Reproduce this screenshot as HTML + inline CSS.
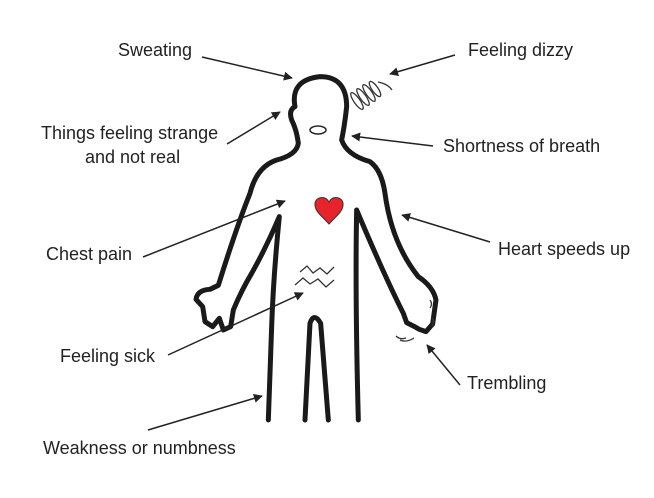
<!DOCTYPE html>
<html><head><meta charset="utf-8"><style>
html,body{margin:0;padding:0;background:#fff;}
svg{display:block;}
text{font-family:"Liberation Sans",Arial,sans-serif;font-size:18px;fill:#222;}
</style></head><body>
<svg width="654" height="498" viewBox="0 0 654 498" xmlns="http://www.w3.org/2000/svg">
<defs>
<marker id="a" viewBox="0 0 10 10" refX="9" refY="5" markerWidth="9" markerHeight="9" markerUnits="userSpaceOnUse" orient="auto">
<path d="M0,0 L10,5 L0,10 Z" fill="#222"/></marker>
</defs>
<g transform="translate(190,60) scale(0.3333)" fill="none" stroke="#1a1a1a" stroke-width="15" stroke-linejoin="round" stroke-linecap="round">
<path d="M235,1080 L245,800 Q250,650 268,470 Q230,560 185,640 Q155,690 130,750 L122,800 L100,810 L88,775 L68,800 L45,785 L38,740 L18,718 Q22,690 60,688 L85,676 Q140,500 180,400 Q200,320 260,300 Q320,285 325,250 Q320,210 305,180 Q295,150 315,140 Q300,60 390,50 Q470,50 470,140 Q465,190 455,240 Q470,285 540,305 Q575,330 585,400 Q605,550 685,650 Q730,680 738,720 L728,792 L708,815 L688,808 L670,798 L650,788 L640,760 Q580,640 500,450 Q495,700 505,1080"/>
<path d="M345,1080 L360,790 Q372,755 392,790 L415,1080"/>
</g>
<g fill="none" stroke="#333" stroke-width="1.3">
<path d="M300,272 L307,266 L313,273 L320,268 L327,274 L334,267"/>
<path d="M295,285 L303,278 L310,284 L318,279 L326,287 L334,280"/>
<ellipse cx="357" cy="101" rx="3" ry="10" transform="rotate(-35 357 101)"/>
<ellipse cx="363" cy="97" rx="3" ry="10" transform="rotate(-35 363 97)"/>
<ellipse cx="369" cy="93" rx="3" ry="10" transform="rotate(-35 369 93)"/>
<ellipse cx="375" cy="89" rx="3" ry="9" transform="rotate(-35 375 89)"/>
<path d="M378,82 q10,2 14,8"/>
<path d="M396,336 q4,4 10,2 M400,340 q6,3 14,-2 M430,300 q3,4 0,8 M432,318 q3,3 0,8"/>
</g>
<ellipse cx="318" cy="130" rx="8" ry="4" fill="none" stroke="#222" stroke-width="1.5"/>
<path d="M329,224 C322,216 314,211 315,203 C316,197 325,195 329,202 C333,195 342,197 343,203 C344,211 336,216 329,224 Z" fill="#e8232b" stroke="#333" stroke-width="1"/>
<g stroke="#222" stroke-width="1.5" marker-end="url(#a)">
<line x1="202" y1="57" x2="292" y2="78"/>
<line x1="455" y1="55" x2="390" y2="74"/>
<line x1="227" y1="144" x2="280" y2="112"/>
<line x1="433" y1="146" x2="352" y2="136"/>
<line x1="143" y1="257" x2="285" y2="201"/>
<line x1="490" y1="242" x2="402" y2="215"/>
<line x1="168" y1="355" x2="303" y2="293"/>
<line x1="460" y1="385" x2="427" y2="345"/>
<line x1="148" y1="430" x2="262" y2="396"/>
</g>
<text x="118" y="56">Sweating</text>
<text x="468" y="56">Feeling dizzy</text>
<text x="41" y="139">Things feeling strange</text>
<text x="85" y="163">and not real</text>
<text x="443" y="152">Shortness of breath</text>
<text x="46" y="260">Chest pain</text>
<text x="498" y="255">Heart speeds up</text>
<text x="60" y="362">Feeling sick</text>
<text x="467" y="389">Trembling</text>
<text x="43" y="454">Weakness or numbness</text>
</svg>
</body></html>
